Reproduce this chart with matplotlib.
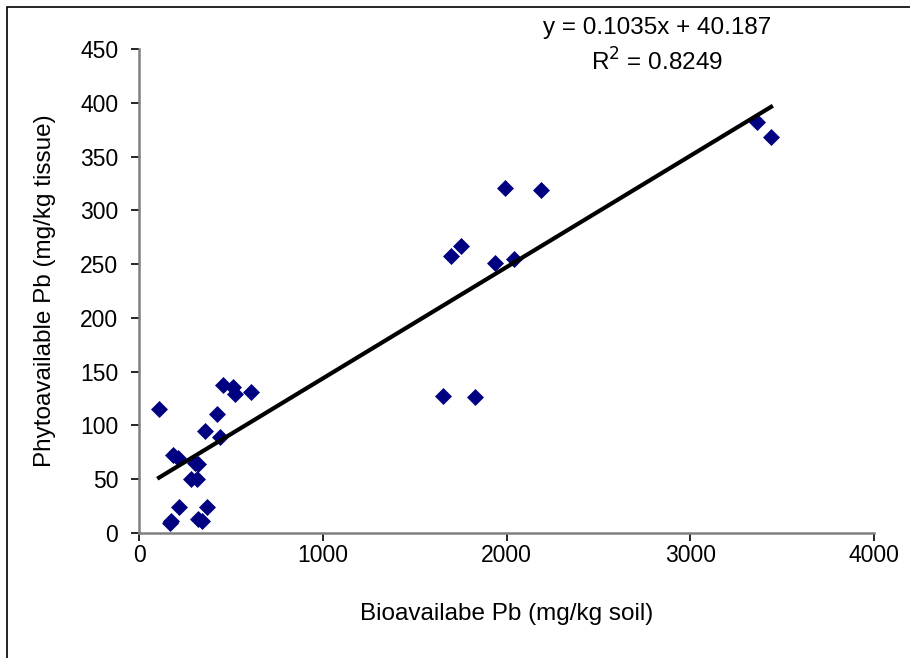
import matplotlib
matplotlib.use("Agg")
import matplotlib.pyplot as plt
import numpy as np
from matplotlib.patches import Rectangle

# bioavailable Pb (soil) vs phytoavailable Pb (tissue)
soil_pb = [109, 456, 513, 523, 610, 423, 359, 441, 183, 210, 305, 323,
           283, 314, 218, 368, 168, 176, 323, 341,
           1992, 2187, 1751, 1697, 1938, 2041, 1653, 1829, 3362, 3440]
tissue_pb = [115, 137.5, 136, 129, 131, 111, 95, 89, 72.5, 70, 65, 64,
             50, 50, 24, 24, 9, 11, 13, 11.5,
             321, 319, 267, 258, 251, 255, 127.6, 126, 382, 368]

slope = 0.1035
intercept = 40.187
r2 = 0.8249

plt.rcParams['font.family'] = ['Liberation Sans', 'DejaVu Sans']

fig = plt.figure(figsize=(9.1, 6.58), dpi=100)
ax = fig.add_axes([139/910, 125/658, 735/910, 484/658])

# chart area border (runs off the right/bottom edge)
fig.patches.append(Rectangle((7/910, -0.05), 2, 1 - 7/658 + 0.05,
                             transform=fig.transFigure, fill=False,
                             edgecolor="black", linewidth=1.2))

ax.scatter(soil_pb, tissue_pb, marker="D", s=75, color="#000080", zorder=3, linewidths=0)

xs = np.array([min(soil_pb), max(soil_pb)])
ax.plot(xs, slope * xs + intercept, color="black", linewidth=3, zorder=4)

ax.set_xlim(0, 4000)
ax.set_ylim(0, 450)
ax.set_xticks(range(0, 4001, 1000))
ax.set_yticks(range(0, 451, 50))

for s in ["top", "right"]:
    ax.spines[s].set_visible(False)
for s in ["left", "bottom"]:
    ax.spines[s].set_color("#808080")
    ax.spines[s].set_linewidth(1.8)

ax.tick_params(direction="out", length=6, width=1.2, colors="black", labelsize=16.5)
ax.tick_params(axis="x", pad=2)
ax.tick_params(axis="y", pad=9)

ax.set_xlabel("Bioavailabe Pb (mg/kg soil)", fontsize=17.5)
ax.set_ylabel("Phytoavailable Pb (mg/kg tissue)", fontsize=17.5)
ax.xaxis.set_label_coords(0.5, -(614 - 533) / 484, transform=ax.transAxes)
ax.yaxis.set_label_coords(-(139 - 45) / 735, 0.5, transform=ax.transAxes)
ax.xaxis.label.set_va("center")
ax.yaxis.label.set_va("center")

fig.text(657/910, 1 - 28/658, "y = 0.1035x + 40.187", ha="center", va="center", fontsize=17.5)
fig.text(657/910, 1 - 62/658, "R$^2$ = 0.8249", ha="center", va="center", fontsize=17.5)

fig.savefig("out.png", dpi=100)
